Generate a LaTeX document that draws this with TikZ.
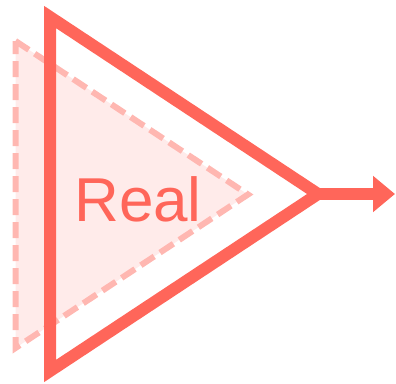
\documentclass[tikz,border=0pt]{standalone}
\usepackage{fontspec}
\setmainfont{Liberation Sans}
\usetikzlibrary{arrows.meta}
\definecolor{solidred}{HTML}{FF665A}
\definecolor{dashpink}{HTML}{FFB7B1}
\definecolor{fillpink}{HTML}{FFEBEA}
\tikzset{
  realtri/.style={draw=solidred, line width=12pt, line join=miter},
  ghosttri/.style={draw=dashpink, fill=fillpink, line width=6pt, dash pattern=on 16pt off 7pt},
  outarrow/.style={draw=solidred, line width=12pt, -{Triangle[length=22pt,width=35pt]}},
  lbl/.style={text=solidred, font=\fontsize{62}{62}\selectfont, anchor=base}
}
\begin{document}
\begin{tikzpicture}[x=1pt,y=-1pt]
\useasboundingbox (0,0) rectangle (396,383);
\coordinate (gt) at (15.5,41);
\coordinate (gb) at (15.5,348);
\coordinate (gp) at (248,194.5);
\draw[ghosttri] (gt) -- (gp) -- (gb) -- cycle;
\coordinate (rt) at (50,17);
\coordinate (rb) at (50,371);
\coordinate (rp) at (318,194);
\draw[realtri] (rt) -- (rp) -- (rb) -- cycle;
\coordinate (ae) at (395,194);
\draw[outarrow] (rp) -- (ae);
\node[lbl] (real) at (138,221) {Real};
\end{tikzpicture}
\end{document}
